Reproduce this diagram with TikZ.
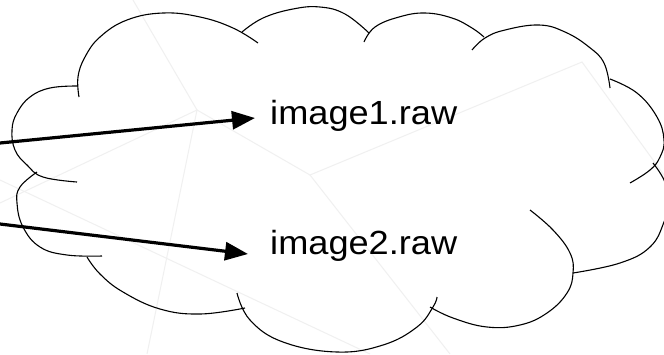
\documentclass[tikz,border=0pt]{standalone}
\usepackage{fontspec}
\setmainfont{Liberation Sans}
\usetikzlibrary{arrows.meta}
\tikzset{
  lobe/.style={line width=1.1pt, black},
  faint/.style={line width=1pt, black!6},
  conn/.style={line width=3.2pt, -{Triangle[length=23pt,width=18pt]}},
  lbl/.style={anchor=base west, inner sep=0pt, xscale=1.08,
              font=\fontsize{33.5}{40}\selectfont}
}
\begin{document}
\begin{tikzpicture}[x=1pt,y=-1pt]
\useasboundingbox (0,0) rectangle (664,354);
\fill[white] (0,0) rectangle (664,354);
\clip (0,0) rectangle (664,354);
% faint background lines
\draw[faint] (133,0) -- (197,110) -- (147,354);
\draw[faint] (0,203) -- (197,110) -- (310,175) -- (582,62) -- (664,175);
\draw[faint] (310,175) -- (450,354);
\draw[faint] (0,180) -- (370,354);
% cloud lobes
\draw[lobe] plot[smooth, tension=0.7] coordinates {(258,43) (233,28) (200,17) (163,13) (127,20) (100,37) (85,57) (78,77) (79,97)};
\draw[lobe] plot[smooth, tension=0.7] coordinates {(242,32) (263,18) (293,9) (320,7) (345,14) (369,33)};
\draw[lobe] plot[smooth, tension=0.7] coordinates {(364,42) (375,27) (399,17) (425,13) (452,18) (472,28) (484,37)};
\draw[lobe] plot[smooth, tension=0.7] coordinates {(472,50) (485,38) (505,30) (539,25) (565,32) (589,47) (604,63) (610,88)};
\draw[lobe] plot[smooth, tension=0.7] coordinates {(610,79) (637,93) (657,117) (664,140) (660,157) (650,170) (630,183)};
\draw[lobe] plot[smooth, tension=0.7] coordinates {(653,163) (664,180) (669,200) (664,222) (650,247) (620,263) (573,273)};
\draw[lobe] plot[smooth, tension=0.7] coordinates {(530,210) (553,230) (570,253) (573,273) (567,293) (547,313) (520,325) (487,327) (453,318) (430,307)};
\draw[lobe] plot[smooth, tension=0.7] coordinates {(237,293) (250,320) (283,342) (337,352) (383,345) (417,327) (433,307) (437,297)};
\draw[lobe] plot[smooth, tension=0.7] coordinates {(87,257) (100,274) (123,292) (160,309) (200,314) (245,308)};
\draw[lobe] plot[smooth, tension=0.7] coordinates {(37,172) (20,187) (17,203) (23,227) (40,247) (67,255) (102,256)};
\draw[lobe] plot[smooth, tension=0.7] coordinates {(77,86) (50,88) (30,97) (17,113) (12,130) (15,150) (27,165) (43,177) (77,182)};
% labels
\node[lbl] (t1) at (270,124) {image1.raw};
\node[lbl] (t2) at (270,254) {image2.raw};
% connectors
\coordinate (s1) at (0,143);
\coordinate (a1) at (255,118);
\coordinate (s2) at (0,224);
\coordinate (a2) at (248,254);
\draw[conn] (s1) -- (a1);
\draw[conn] (s2) -- (a2);
\end{tikzpicture}
\end{document}
